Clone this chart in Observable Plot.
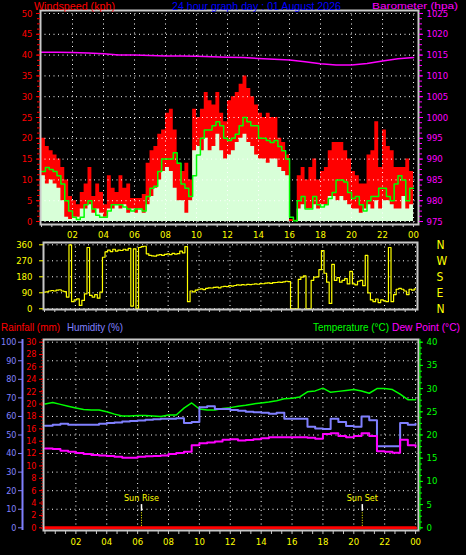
<!DOCTYPE html>
<html><head><meta charset="utf-8">
<script src="https://cdn.jsdelivr.net/npm/d3@7"></script>
<script src="https://cdn.jsdelivr.net/npm/@observablehq/plot@0.6"></script>
<style>
html,body{margin:0;padding:0;background:#000;}
#root{position:relative;width:466px;height:555px;background:#000;overflow:hidden;}
#root > svg{position:absolute;left:0;}
</style></head><body><div id="root"></div>
<script>
// ---------- DATA ----------
// x axis tick labels (hours)
const hourTicks = [2,4,6,8,10,12,14,16,18,20,22,24];
const hourLabels = ["02","04","06","08","10","12","14","16","18","20","22","00"];

// Wind, 15-minute samples starting at 00:00 (kph)
const gust = [20,18,17,16, 15,13,10,6, 5,4,7,9, 13,6,9,7, 4,11,8,7, 11,8,9,5.5, 5.5,5.5,6.5,14, 17,18,21,22,
  26,27,22,14, 12,14,10,27, 25,27,31,29, 28,31,26,24, 29,30,31,33, 35,32,30,28, 26,25,26,25, 25,20,19,16,
  0.5,0.3,11,13, 10,13,15,10, 12,13,17,19, 19,19,17,15, 12,11,9,9, 16,17,24,13, 22,18,17,13, 13,13,15,12];
const speed = [11,9,10,9, 8,5,1,0.5, 1,1,3,3, 4,2,3,2, 1,3,3,4, 3,4,2,3, 2,3,2,4, 6,8,10,12,
  13,12,8,5, 5,2,5,17, 18,17,20,17, 18,21,17,15, 16,17,19,20, 21,19,18,16, 15,15,14,15, 15,13,12,11,
  0,0,3,4, 3,3,4,3, 4,4,6,6, 5,6,5,4, 3,3,2,3, 4,3,5,3, 5,5,4,3, 3,6,3,4];
const avgWind = [12,13,12.5,12, 11,9,5,2.5, 1,0.5,1,4, 5,3,1.5,1, 1,2.5,4,4, 4,3.5,3,2.5, 3,3,2.5,6, 8,8.5,12,15,
  15,15,16.5,14, 9,8,6,11, 16,20,22,22, 23,24,23,20, 19.5,20,21,23, 25,24,23,23, 20,20,19.5,19, 19.5,18,17,15,
  1,0.2,5,6, 3,3,6,4, 3.5,4,5.5,7, 10,10,9.5,7, 5.5,6,4,2.5, 5,6,6,8, 8,6,5,9, 11,10,5,8];
// Barometer, hourly (hPa)
const baro = [1015.7,1015.7,1015.6,1015.5,1015.3,1015.0,1015.0,1014.9,1014.8,1014.8,1014.7,1014.6,1014.5,
  1014.4,1014.2,1014.0,1013.8,1013.4,1012.9,1012.6,1012.6,1013.0,1013.6,1014.1,1014.4];
const baroTicks = [975,980,985,990,995,1000,1005,1010,1015,1020,1025];

// Wind direction, 10-minute samples (degrees)
const windDir = [94,95,100,103,100,105,107,100,97,66, 360,40,50,56,19,47,84,345,75,66,
  80,60,94,290,320,330,322,335,325,330, 328,335,330,340,15,337,2,345,350,352,
  309,300,298,296,302,305,300,306,309,305, 312,308,310,325,315,350,40,100,95,105,
  110,112,108,115,118,117,120,122,118,124, 126,125,130,128,131,135,133,136,134,137,
  136,138,140,138,142,141,144,146,143,147, 148,150,149,152,155,153,0,0,0,165,
  178,185,0,0,160,178,180,220,328,200, 150,30,250,160,175,150,160,170,140,210,
  140,135,155,160,130,300,90,50,40,55, 35,50,45,40,345,40,80,110,115,110,
  100,80,110,105,112];
const dirTicks = [0,90,180,270,360];
const dirLetters = ["N","E","S","W","N"];

// Half-hourly temperature, humidity, dew point
const temperature = [26.7,27.0,26.6,26.2,25.8,25.5,25.4,25.4,25.0,24.5,24.1,24.1,24.2,24.2,24.1,24.0,24.3,24.3,
  25.8,26.9,25.6,25.4,25.4,25.7,25.9,26.2,26.4,26.7,26.9,27.1,27.4,27.8,27.9,28.2,29.3,29.5,30.1,29.2,29.4,
  29.6,29.8,29.5,29.0,30.0,30.0,29.8,28.8,27.6,27.6];
const humidity = [55,55.5,56,55.5,55.5,55.5,55.5,56,56.5,56.8,57.3,57.6,57.8,58.2,58.5,58.7,58.7,59,56.5,57,
  65,65.5,64,64,63.5,63,62.5,62.3,62,61.5,62,58.7,58.7,58.7,54.5,53.5,53.3,58.7,57,54.8,54.5,60,58,44,44,44,
  56.5,55.5,56];
const dewPoint = [17.1,17.0,16.6,16.4,16.1,15.9,15.7,15.6,15.5,15.3,15.1,15.1,15.3,15.4,15.5,15.6,15.9,16.1,
  16.4,17.8,18.2,18.4,18.6,19.0,19.1,18.8,18.9,19.1,19.3,19.5,19.5,19.5,19.5,19.5,19.4,19.2,20.2,20.4,19.8,
  19.5,19.8,20.4,19.8,16.5,16.4,16.2,19.0,17.8,17.5];
// Hourly rainfall (mm)
const rainfall = [0,0,0,0,0,0,0,0,0,0,0,0,0,0,0,0,0,0,0,0,0,0,0,0,0];
const humTicks = [0,10,20,30,40,50,60,70,80,90,100];
const rainTicks = [0,2,4,6,8,10,12,14,16,18,20,22,24,26,28,30];
const tempTicks = [0,5,10,15,20,25,30,35,40];
const sunNames = ["Sun Rise","Sun Set"];
const sunHours = [6.25, 20.55];

// ---------- BUILD ----------
const root = document.getElementById("root");
const FONT = "'Liberation Sans Narrow','DejaVu Sans Condensed','Liberation Sans',sans-serif";
const st = {background:"transparent", fontFamily:FONT, fontSize:"9.5px", overflow:"visible"};
const hourFmt = h => hourLabels[hourTicks.indexOf(h)];
const minorHours = d3.range(0, 24.001, 2/3);
const none = () => "";
const FR = "#c8c8c8";
const dots = {stroke:"#ffffff", strokeOpacity:1, strokeDasharray:"1,3.5", strokeWidth:1};

const windRows = gust.map((g,i)=>({t:i*0.25, gust:g, speed:speed[i], avg:avgWind[i]}));
windRows.push({t:24, gust:gust[gust.length-1], speed:speed[speed.length-1], avg:avgWind[avgWind.length-1]});
const baroRows = baro.map((p,i)=>({t:i, p}));

const topChart = Plot.plot({
  width:466, height:240, marginTop:10, marginBottom:16, marginLeft:40, marginRight:48,
  x:{domain:[-0.065, 24.32]}, y:{domain:[-0.72, 50.72]}, style:st,
  marks:[
    Plot.areaY(windRows,{x:"t", y:"gust", curve:"step-after", fill:"#ff0000"}),
    Plot.areaY(windRows,{x:"t", y:"speed", curve:"step-after", fill:"#d8ffd8"}),
    Plot.gridY({ticks:d3.range(0,50.1,5), ...dots}),
    Plot.gridX({ticks:hourTicks, ...dots}),
    Plot.lineY(windRows,{x:"t", y:"avg", curve:"step-after", stroke:"#00ff00", strokeWidth:1.5}),
    Plot.lineY(baroRows,{x:"t", y:d=>d.p-975, stroke:"#ff00ff", strokeWidth:1.5}),
    Plot.frame({stroke:FR, strokeWidth:2}),
    Plot.axisY({anchor:"left", ticks:d3.range(0,50.1,1.25), tickSize:3, tickFormat:none, color:"#ff0000", label:null}),
    Plot.axisY({anchor:"left", ticks:d3.range(0,50.1,5), tickSize:4, tickPadding:4, color:"#ff0000", label:null}),
    Plot.axisY({anchor:"right", ticks:d3.range(0,50.1,1.25), tickSize:3, tickFormat:none, color:"#ff00ff", label:null}),
    Plot.axisY({anchor:"right", ticks:baroTicks.map(b=>b-975), tickSize:4, tickPadding:4,
      tickFormat:v=>String(Math.round(v+975)), color:"#ff00ff", label:null}),
    Plot.axisX({anchor:"bottom", ticks:minorHours, tickSize:3, tickFormat:none, color:FR, label:null}),
    Plot.axisX({anchor:"bottom", ticks:hourTicks, tickSize:0, tickPadding:7, tickFormat:hourFmt, color:"#ffff00", label:null})
  ]
});
topChart.style.top = "0px";
root.appendChild(topChart);

const dirRows = windDir.map((d,i)=>({t:i/6, d}));
const midChart = Plot.plot({
  width:466, height:90, marginTop:12, marginBottom:11, marginLeft:43, marginRight:49,
  x:{domain:[-0.065, 24.13]}, y:{domain:[-4, 373]}, style:st,
  marks:[
    Plot.gridY({ticks:dirTicks, ...dots}),
    Plot.gridX({ticks:hourTicks, ...dots}),
    Plot.lineY(dirRows,{x:"t", y:"d", curve:"step", stroke:"#ffff00", strokeWidth:1.2}),
    Plot.frame({stroke:FR, strokeWidth:2}),
    Plot.axisY({anchor:"left", ticks:dirTicks, tickSize:4, tickPadding:7, color:"#ffff00", label:null}),
    Plot.axisY({anchor:"right", ticks:dirTicks, tickSize:0, tickPadding:19, fontSize:12,
      tickFormat:d=>dirLetters[dirTicks.indexOf(d)], color:"#ffff00", label:null}),
    Plot.axisX({anchor:"bottom", ticks:minorHours, tickSize:3, tickFormat:none, color:FR, label:null})
  ]
});
midChart.style.top = "230px";
root.appendChild(midChart);

const climRows = temperature.map((t,i)=>({t:i*0.5, temp:t*2.5, hum:humidity[i], dew:dewPoint[i]*2.5}));
const rainRows = rainfall.map((r,i)=>({t:i, r:r*100/30}));
const sunRows = sunNames.map((n,i)=>({name:n, t:sunHours[i]}));
const xB = [-0.097, 24.19];
const botChart = Plot.plot({
  width:466, height:225, marginTop:9, marginBottom:25, marginLeft:43, marginRight:48,
  x:{domain:xB}, y:{domain:[-1.45, 101.45]}, style:st,
  marks:[
    Plot.gridY({ticks:d3.range(10,100.1,10), ...dots}),
    Plot.gridX({ticks:hourTicks, ...dots}),
    Plot.lineY(climRows,{x:"t", y:"temp", stroke:"#00ff00", strokeWidth:1.5}),
    Plot.lineY(climRows,{x:"t", y:"hum", curve:"step-after", stroke:"#8080ff", strokeWidth:2}),
    Plot.lineY(climRows,{x:"t", y:"dew", curve:"step-after", stroke:"#ff00ff", strokeWidth:2}),
    Plot.lineY(rainRows,{x:"t", y:"r", stroke:"#ff0000", strokeWidth:3}),
    Plot.ruleX(sunRows,{x:"t", y1:8.9, y2:12.5, stroke:"#ffffff", strokeWidth:1.5}),
    Plot.ruleX(sunRows,{x:"t", y1:0.8, y2:8.9, stroke:"#ffff00", strokeDasharray:"1,1.5"}),
    Plot.text(sunRows,{x:"t", y:16, text:"name", fill:"#ffff00", fontSize:9}),
    Plot.frame({stroke:FR, strokeWidth:2}),
    Plot.ruleX([xB[0]],{dx:-21, stroke:"#8080ff", strokeWidth:2}),
    Plot.axisY({anchor:"left", dx:-21, ticks:humTicks, tickSize:4, tickPadding:2, fontSize:9, color:"#8080ff", label:null}),
    Plot.ruleX([xB[0]],{dx:-1.5, stroke:"#ff0000", strokeDasharray:"1,2"}),
    Plot.axisY({anchor:"left", ticks:rainTicks.map(r=>r*100/30), tickSize:4, tickPadding:3, fontSize:9,
      tickFormat:v=>String(Math.round(v*0.3)), color:"#ff0000", label:null}),
    Plot.ruleX([xB[1]],{dx:1.5, stroke:"#00ff00", strokeWidth:1}),
    Plot.axisY({anchor:"right", ticks:d3.range(0,100.1,3.125), tickSize:3, tickFormat:none, color:"#00ff00", label:null}),
    Plot.axisY({anchor:"right", ticks:tempTicks.map(t=>t*2.5), tickSize:4, tickPadding:4,
      tickFormat:v=>String(Math.round(v/2.5)), color:"#00ff00", label:null}),
    Plot.axisX({anchor:"bottom", ticks:minorHours, tickSize:4, tickFormat:none, color:FR, label:null}),
    Plot.axisX({anchor:"bottom", ticks:hourTicks, tickSize:0, tickPadding:8, tickFormat:hourFmt, color:"#ffff00", label:null})
  ]
});
botChart.style.top = "330px";
root.appendChild(botChart);

// ---------- TEXT LABELS ----------
const ov = d3.create("svg").attr("width",466).attr("height",555)
  .style("position","absolute").style("top","0px").style("left","0px")
  .style("font-family","'Liberation Sans',sans-serif").style("font-size","11px");
function label(txt, x, y, w, color, size){
  ov.append("text").attr("x",x).attr("y",y).attr("fill",color).style("font-size", size || "11px")
    .attr("textLength",w).attr("lengthAdjust","spacingAndGlyphs").text(txt);
}
label("Windspeed (kph)", 34, 9.5, 81, "#ff0000", "10px");
label("24 hour graph day : 01 August 2026", 172, 9.5, 169, "#0000ff", "10px");
label("Barometer (hpa)", 372, 9, 86, "#ff00ff", "9.5px");
label("Rainfall (mm)", 1, 330.5, 59, "#ff0000");
label("Humidity (%)", 67, 330.5, 56, "#8080ff");
label("Temperature (°C)", 313, 330.5, 76, "#00ff00");
label("Dew Point (°C)", 392, 330.5, 68, "#ff00ff");
root.appendChild(ov.node());
</script></body></html>
